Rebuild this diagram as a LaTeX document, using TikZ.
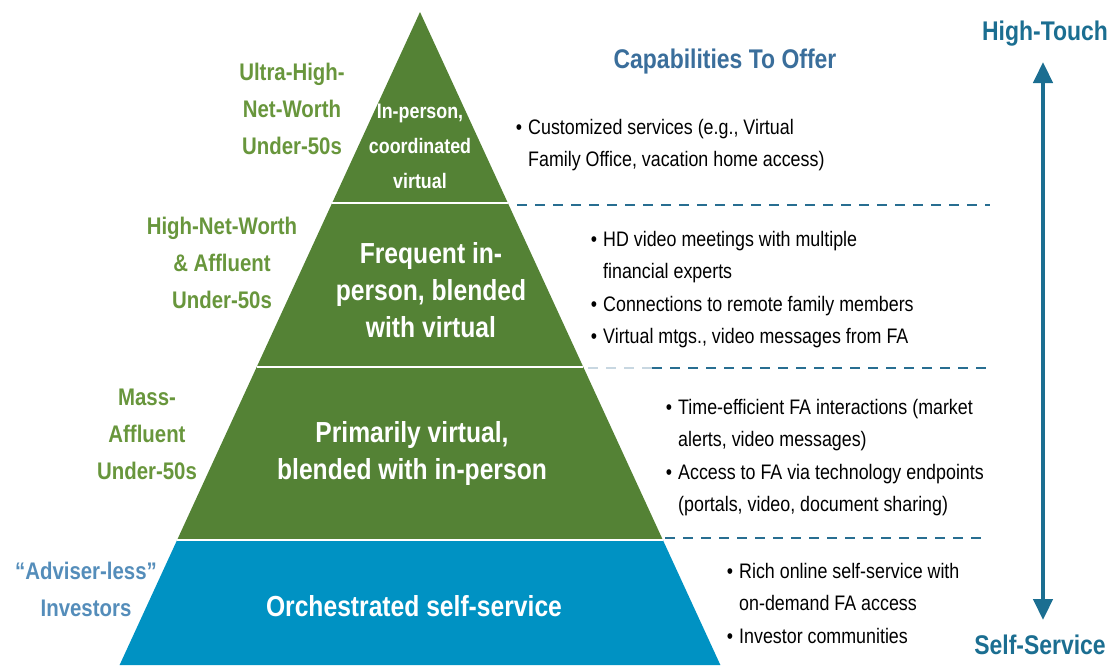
\documentclass[tikz,border=0pt]{standalone}
\usepackage{fontspec}
\setmainfont{Liberation Sans}[FakeStretch=0.85]
\usetikzlibrary{arrows.meta, positioning}
\definecolor{verdePir}{RGB}{84,130,53}
\definecolor{bluPir}{RGB}{0,146,195}
\definecolor{verdeEtic}{RGB}{104,150,60}
\definecolor{bluEtic}{RGB}{84,141,186}
\definecolor{bluTitolo}{RGB}{58,110,155}
\definecolor{bluFreccia}{RGB}{27,110,145}
\definecolor{bluTratt}{RGB}{40,110,145}
\definecolor{grigioTratt}{RGB}{200,215,225}

\begin{document}
\begin{tikzpicture}[x=1pt, y=-1pt,
    livello/.style={text=white, font=\bfseries\fontsize{29}{37}\selectfont, align=center},
    etichetta/.style={text=verdeEtic, font=\bfseries\fontsize{24}{37}\selectfont, align=center},
    titolo/.style={text=bluTitolo, font=\bfseries\fontsize{27}{30}\selectfont},
    elenco/.style={anchor=north west, inner sep=0pt, align=left, font=\fontsize{21}{32.5}\selectfont},
    tratteggio/.style={draw=bluTratt, line width=2.5pt, dash pattern=on 10pt off 8pt}]
    % Parametri
    \pgfmathsetmacro{\xc}{420}
    \pgfmathsetmacro{\yv}{12}
    \pgfmathsetmacro{\k}{0.46}
    \useasboundingbox (0,0) rectangle (1120,665);
    % Piramide
    \foreach \n/\y in {0/12,1/203,2/367,3/540,4/665}{
        \coordinate (L\n) at ({\xc-\k*(\y-\yv)},\y);
        \coordinate (R\n) at ({\xc+\k*(\y-\yv)},\y);
    }
    \fill[verdePir] (L0) -- (L3) -- (R3) -- cycle;
    \fill[bluPir] (L3) -- (L4) -- (R4) -- (R3) -- cycle;
    \foreach \n in {1,2,3}
        \draw[white, line width=2.5pt] (L\n) -- (R\n);
    % Livelli
    \node[livello, font=\bfseries\fontsize{21}{35}\selectfont] (vertice) at (420,146) {In-person,\\coordinated\\virtual};
    \node[livello] (frequente) at (431,290) {Frequent in-\\person, blended\\with virtual};
    \node[livello] (virtuale) at (412,453) {Primarily virtual,\\blended with in-person};
    \node[livello] (selfserv) at (414,606) {Orchestrated self-service};
    % Clienti
    \node[etichetta] (uhnw) at (292,109) {Ultra-High-\\Net-Worth\\Under-50s};
    \node[etichetta] (hnw) at (222,263) {High-Net-Worth\\\& Affluent\\Under-50s};
    \node[etichetta] (mass) at (147,434) {Mass-\\Affluent\\Under-50s};
    \node[etichetta, text=bluEtic] (advless) at (86,589) {“Adviser-less”\\Investors};
    % Capacita
    \node[titolo] (capacita) at (725,62) {Capabilities To Offer};
    \node[elenco] (b1) at (528,119) {\llap{•\hspace{6pt}}Customized services (e.g., Virtual\\Family Office, vacation home access)};
    \node[elenco] (b2) at (603,231) {\llap{•\hspace{6pt}}HD video meetings with multiple\\financial experts\\\llap{•\hspace{6pt}}Connections to remote family members\\\llap{•\hspace{6pt}}Virtual mtgs., video messages from FA};
    \node[elenco] (b3) at (678,399) {\llap{•\hspace{6pt}}Time-efficient FA interactions (market\\alerts, video messages)\\\llap{•\hspace{6pt}}Access to FA via technology endpoints\\(portals, video, document sharing)};
    \node[elenco] (b4) at (739,563) {\llap{•\hspace{6pt}}Rich online self-service with\\on-demand FA access\\\llap{•\hspace{6pt}}Investor communities};
    % Separatori
    \coordinate (s1a) at (517,205);
    \coordinate (s1b) at (990,205);
    \coordinate (s2a) at (588,368);
    \coordinate (s2m) at (652,368);
    \coordinate (s2b) at (992,368);
    \coordinate (s3a) at (665,538);
    \coordinate (s3b) at (986,538);
    \draw[tratteggio] (s1a) -- (s1b);
    \draw[tratteggio, draw=grigioTratt] (s2a) -- (s2m);
    \draw[tratteggio] (s2m) -- (s2b);
    \draw[tratteggio] (s3a) -- (s3b);
    % Asse
    \node[titolo, text=bluFreccia] (alto) at (1045,34) {High-Touch};
    \node[titolo, text=bluFreccia] (basso) at (1040,645) {Self-Service};
    \coordinate (cima) at (1043,62);
    \coordinate (fondo) at (1043,620);
    \draw[bluFreccia, line width=4.5pt, {Triangle[width=19pt, length=21pt]}-{Triangle[width=19pt, length=21pt]}] (cima) -- (fondo);
\end{tikzpicture}
\end{document}
